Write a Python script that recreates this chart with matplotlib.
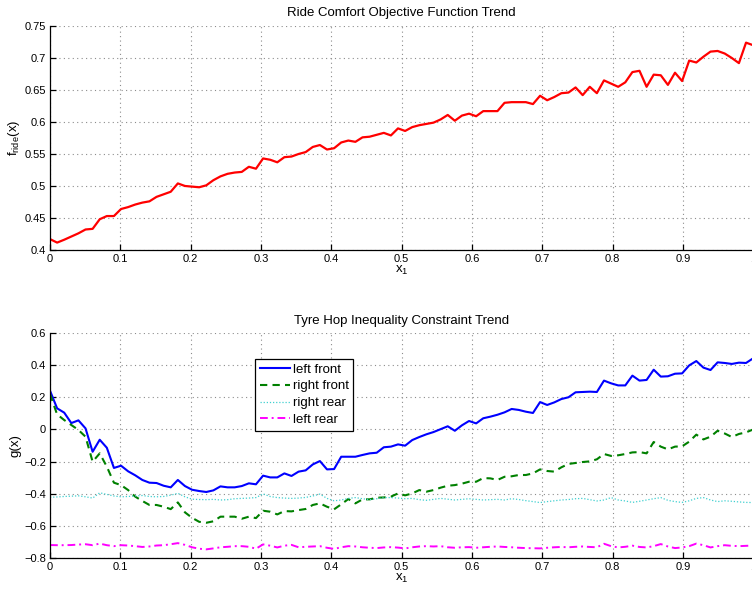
import numpy as np
import matplotlib
matplotlib.use("Agg")
import matplotlib.pyplot as plt

plt.rcParams['font.family'] = ['Liberation Sans', 'DejaVu Sans']
plt.rcParams['mathtext.fontset'] = 'custom'
plt.rcParams['mathtext.rm'] = 'Liberation Sans'
plt.rcParams['mathtext.it'] = 'Liberation Sans'

# design variable samples
x1 = np.linspace(0, 1, 100)

f_ride = [0.417, 0.4115, 0.416, 0.421, 0.426, 0.432, 0.433, 0.448, 0.453, 0.453,
          0.464, 0.467, 0.471, 0.474, 0.476, 0.483, 0.487, 0.491, 0.504, 0.500,
          0.499, 0.498, 0.501, 0.509, 0.515, 0.519, 0.521, 0.522, 0.530, 0.527,
          0.543, 0.541, 0.537, 0.545, 0.546, 0.550, 0.553, 0.561, 0.564, 0.557,
          0.559, 0.568, 0.571, 0.569, 0.576, 0.577, 0.580, 0.583, 0.579, 0.590,
          0.586, 0.592, 0.595, 0.597, 0.599, 0.604, 0.611, 0.602, 0.610, 0.613,
          0.609, 0.617, 0.617, 0.617, 0.630, 0.631, 0.631, 0.631, 0.628, 0.641,
          0.634, 0.639, 0.645, 0.646, 0.654, 0.642, 0.655, 0.645, 0.665, 0.660,
          0.655, 0.662, 0.678, 0.680, 0.655, 0.674, 0.673, 0.658, 0.677, 0.664,
          0.696, 0.693, 0.702, 0.710, 0.711, 0.707, 0.700, 0.692, 0.724, 0.720]

left_front = [0.242, 0.132, 0.105, 0.040, 0.057, 0.007, -0.139, -0.064, -0.114, -0.240,
              -0.226, -0.261, -0.286, -0.315, -0.332, -0.334, -0.351, -0.361, -0.315, -0.353,
              -0.376, -0.384, -0.390, -0.380, -0.355, -0.361, -0.361, -0.353, -0.336, -0.342,
              -0.288, -0.299, -0.299, -0.274, -0.290, -0.263, -0.255, -0.218, -0.197, -0.249,
              -0.247, -0.170, -0.170, -0.170, -0.159, -0.149, -0.145, -0.111, -0.107, -0.093,
              -0.101, -0.066, -0.047, -0.030, -0.016, 0.002, 0.020, -0.008, 0.026, 0.053,
              0.038, 0.070, 0.080, 0.092, 0.107, 0.128, 0.122, 0.111, 0.103, 0.171,
              0.153, 0.169, 0.190, 0.201, 0.232, 0.234, 0.236, 0.234, 0.305, 0.288,
              0.275, 0.275, 0.336, 0.305, 0.309, 0.373, 0.330, 0.332, 0.348, 0.350,
              0.400, 0.427, 0.386, 0.371, 0.419, 0.415, 0.409, 0.417, 0.415, 0.444]

right_front = [0.221, 0.094, 0.059, 0.028, -0.003, -0.045, -0.201, -0.149, -0.232, -0.332,
               -0.347, -0.378, -0.419, -0.446, -0.471, -0.471, -0.482, -0.497, -0.455, -0.517,
               -0.551, -0.576, -0.582, -0.573, -0.544, -0.544, -0.544, -0.557, -0.544, -0.553,
               -0.507, -0.513, -0.530, -0.509, -0.511, -0.503, -0.496, -0.471, -0.461, -0.482,
               -0.498, -0.467, -0.434, -0.461, -0.436, -0.436, -0.426, -0.424, -0.419, -0.399,
               -0.411, -0.399, -0.378, -0.388, -0.378, -0.363, -0.351, -0.347, -0.338, -0.326,
               -0.326, -0.303, -0.305, -0.315, -0.295, -0.292, -0.284, -0.284, -0.274, -0.249,
               -0.259, -0.263, -0.236, -0.215, -0.209, -0.203, -0.199, -0.186, -0.153, -0.165,
               -0.161, -0.153, -0.143, -0.141, -0.149, -0.078, -0.107, -0.124, -0.107, -0.105,
               -0.076, -0.032, -0.062, -0.045, -0.008, -0.025, -0.047, -0.028, -0.018, 0.000]

right_rear = [-0.423, -0.421, -0.418, -0.416, -0.414, -0.420, -0.428, -0.395, -0.405, -0.415,
              -0.420, -0.418, -0.415, -0.412, -0.418, -0.420, -0.418, -0.410, -0.398, -0.420,
              -0.435, -0.437, -0.438, -0.436, -0.440, -0.438, -0.432, -0.430, -0.428, -0.425,
              -0.402, -0.418, -0.425, -0.428, -0.430, -0.428, -0.424, -0.415, -0.403, -0.430,
              -0.445, -0.440, -0.430, -0.425, -0.432, -0.438, -0.432, -0.425, -0.425, -0.428,
              -0.432, -0.430, -0.438, -0.442, -0.436, -0.430, -0.435, -0.440, -0.436, -0.432,
              -0.436, -0.440, -0.438, -0.436, -0.440, -0.432, -0.437, -0.444, -0.450, -0.456,
              -0.450, -0.445, -0.440, -0.437, -0.432, -0.430, -0.438, -0.446, -0.440, -0.425,
              -0.440, -0.446, -0.455, -0.448, -0.440, -0.432, -0.425, -0.442, -0.450, -0.455,
              -0.445, -0.430, -0.425, -0.440, -0.450, -0.445, -0.448, -0.452, -0.455, -0.456]

left_rear = [-0.721, -0.722, -0.722, -0.721, -0.718, -0.716, -0.722, -0.712, -0.722, -0.728,
             -0.722, -0.724, -0.728, -0.733, -0.730, -0.724, -0.722, -0.716, -0.709, -0.720,
             -0.735, -0.744, -0.748, -0.742, -0.735, -0.732, -0.728, -0.728, -0.732, -0.744,
             -0.717, -0.725, -0.736, -0.725, -0.720, -0.735, -0.732, -0.730, -0.728, -0.738,
             -0.745, -0.735, -0.728, -0.730, -0.735, -0.738, -0.740, -0.736, -0.734, -0.737,
             -0.742, -0.735, -0.730, -0.728, -0.730, -0.728, -0.735, -0.738, -0.735, -0.734,
             -0.738, -0.735, -0.732, -0.730, -0.733, -0.735, -0.738, -0.740, -0.741, -0.742,
             -0.738, -0.735, -0.733, -0.735, -0.732, -0.730, -0.733, -0.735, -0.713, -0.728,
             -0.736, -0.732, -0.725, -0.733, -0.736, -0.728, -0.715, -0.730, -0.740, -0.736,
             -0.728, -0.712, -0.722, -0.736, -0.728, -0.722, -0.726, -0.728, -0.726, -0.724]

xticks = np.arange(0, 1.01, 0.1)
xticklabels = ['0', '0.1', '0.2', '0.3', '0.4', '0.5', '0.6', '0.7', '0.8', '0.9', '1']
f_ticks = [0.4, 0.45, 0.5, 0.55, 0.6, 0.65, 0.7, 0.75]
f_ticklabels = ['0.4', '0.45', '0.5', '0.55', '0.6', '0.65', '0.7', '0.75']
g_ticks = [-0.8, -0.6, -0.4, -0.2, 0, 0.2, 0.4, 0.6]
g_ticklabels = ['\u22120.8', '\u22120.6', '\u22120.4', '\u22120.2', '0', '0.2', '0.4', '0.6']

TICK_FS = 8
LABEL_FS = 9.5
TITLE_FS = 9.5


def style_axes(ax):
    # matlab look: inward ticks, dotted grid, open top/right
    ax.spines['top'].set_visible(False)
    ax.spines['right'].set_visible(False)
    ax.spines['left'].set_linewidth(0.9)
    ax.spines['bottom'].set_linewidth(0.9)
    ax.tick_params(direction='in', length=4, width=0.9, labelsize=TICK_FS, pad=3)
    ax.grid(True, color='0.55', linestyle=(0, (1, 3)), linewidth=0.8)
    ax.set_axisbelow(True)
    ax.set_xlim(0, 1)
    ax.set_xticks(xticks)
    ax.set_xticklabels(xticklabels)


fig = plt.figure(figsize=(7.52, 5.98), dpi=100)
ax1 = fig.add_axes([0.0665, 0.582, 0.935, 0.3745])
ax2 = fig.add_axes([0.0665, 0.0674, 0.935, 0.3752])

ax1.plot(x1, f_ride, color='r', linewidth=1.6)
style_axes(ax1)
ax1.set_ylim(0.4, 0.75)
ax1.set_yticks(f_ticks)
ax1.set_yticklabels(f_ticklabels)
ax1.set_title('Ride Comfort Objective Function Trend', fontsize=TITLE_FS, pad=7)
ax1.set_xlabel('x$_1$', fontsize=LABEL_FS, labelpad=0)
ax1.set_ylabel('f$_{\\rm ride}$(x)', fontsize=LABEL_FS, labelpad=2)

ax2.plot(x1, left_front, color='#0000ff', linewidth=1.5, label='left front')
ax2.plot(x1, right_front, color='#008000', linewidth=1.5, linestyle=(0, (3.5, 2.5)), label='right front')
ax2.plot(x1, right_rear, color='#40d0d0', linewidth=0.9, linestyle=(0, (1, 1.5)), label='right rear')
ax2.plot(x1, left_rear, color='#ff00ff', linewidth=1.4, linestyle=(0, (4, 2, 1, 2)), label='left rear')
style_axes(ax2)
ax2.set_ylim(-0.8, 0.6)
ax2.set_yticks(g_ticks)
ax2.set_yticklabels(g_ticklabels)
ax2.set_title('Tyre Hop Inequality Constraint Trend', fontsize=TITLE_FS, pad=7)
ax2.set_xlabel('x$_1$', fontsize=LABEL_FS, labelpad=0)
ax2.set_ylabel('g(x)', fontsize=LABEL_FS, labelpad=2)

leg = ax2.legend(loc='upper left', bbox_to_anchor=(0.2916, 0.887), borderaxespad=0,
                 fontsize=LABEL_FS, fancybox=False, framealpha=1, edgecolor='k',
                 handlelength=2.3, handletextpad=0.2, labelspacing=0.35,
                 borderpad=0.35)
leg.get_frame().set_linewidth(0.9)

fig.savefig('out.png', dpi=100)
